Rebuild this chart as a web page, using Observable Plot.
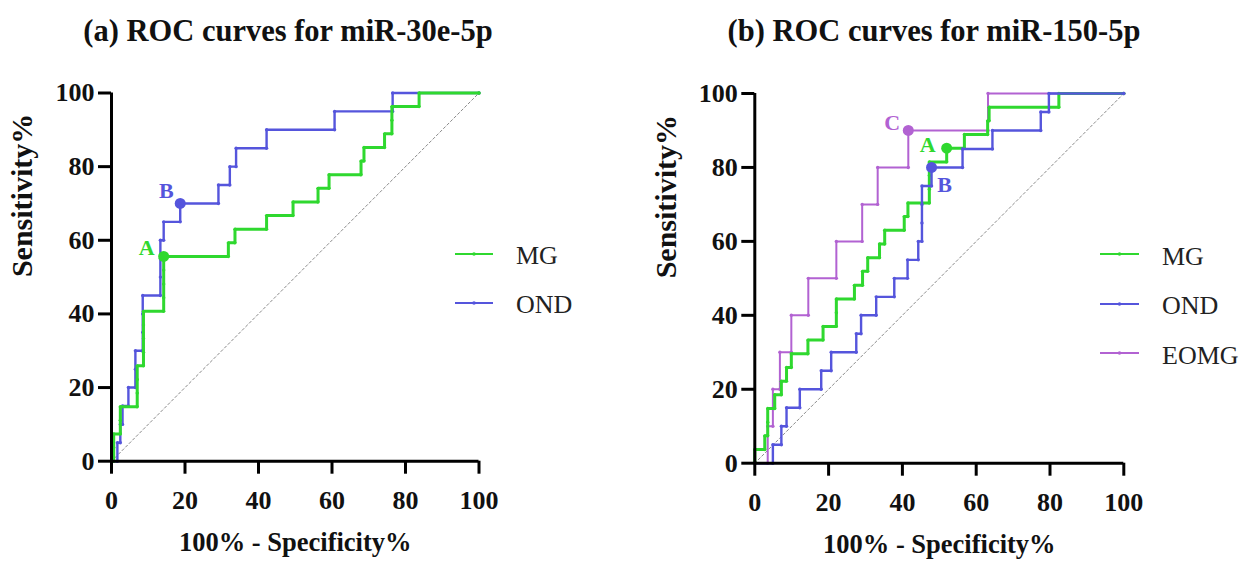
<!DOCTYPE html>
<html><head><meta charset="utf-8">
<script src="https://cdn.jsdelivr.net/npm/d3@7"></script>
<script src="https://cdn.jsdelivr.net/npm/@observablehq/plot@0.6"></script>
<style>
body{margin:0;background:#fff;}
#root{position:relative;width:1252px;height:568px;overflow:hidden;font-family:"Liberation Serif",serif;background:#fff;}
.title{position:absolute;top:16px;font-weight:bold;font-size:30.5px;line-height:30px;white-space:nowrap;transform:translateX(-50%);color:#111;}
.panel{position:absolute;top:60px;}
.leg{position:absolute;font-size:26px;line-height:30px;white-space:nowrap;color:#222;}
.legsw{position:absolute;}
</style></head><body><div id="root"></div>
<script>
// ---------- data ----------
const ticks = [0, 20, 40, 60, 80, 100];
const diagonal = [0, 100];

// Panel (a) miR-30e-5p
const mgA_fpr = [0,0.6,0.6,0.6,2.4,2.4,2.4,7,7,7,7,8.7,8.7,8.7,8.7,8.7,14.2,14.2,14.2,14.2,14.2,31.8,31.8,33.6,33.6,42.2,42.2,49.4,49.4,56.2,56.2,59.2,59.2,67.9,67.9,68.7,68.7,74.3,74.3,76.3,76.3,76.3,83.7,83.7,100];
const mgA_tpr = [0,0,3.7,7.4,7.4,11.1,14.8,14.8,18.5,22.2,25.9,25.9,29.6,33.3,37,40.7,40.7,44.4,48.1,51.9,55.6,55.6,59.3,59.3,63,63,66.7,66.7,70.4,70.4,74.1,74.1,77.8,77.8,81.5,81.5,85.2,85.2,88.9,88.9,92.6,96.3,96.3,100,100];
const ondA_fpr = [0,1.6,1.6,2.4,2.4,3.0,3.0,4.6,4.6,6.5,6.5,6.5,8.5,8.5,8.5,8.5,13.3,13.3,13.3,13.3,14.2,14.2,18.7,18.7,29.1,29.1,32.2,32.2,33.9,33.9,42.2,42.2,60.7,60.7,76.5,76.5,100];
const ondA_tpr = [0,0,5,5,10,10,15,15,20,20,25,30,30,35,40,45,45,50,55,60,60,65,65,70,70,75,75,80,80,85,85,90,90,95,95,100,100];
const cutA_label = ["A", "B"];
const cutA_fpr = [14.2, 18.7];
const cutA_tpr = [55.6, 70];

// Panel (b) miR-150-5p
const mgB_fpr = [0,0,2.7,2.7,3.5,3.5,3.5,5.4,5.4,7.2,7.2,8.6,8.6,9.9,9.9,14.4,14.4,18.5,18.5,22.1,22.1,22.1,27,27,29.2,29.2,30.6,30.6,33.8,33.8,35.2,35.2,40.5,40.5,41.5,41.5,47.3,47.3,47.3,47.3,52,52,56.8,56.8,63.1,63.1,63.5,63.5,82.4,82.4,100];
const mgB_tpr = [0,3.7,3.7,7.4,7.4,11.1,14.8,14.8,18.5,18.5,22.2,22.2,25.9,25.9,29.6,29.6,33.3,33.3,37,37,40.7,44.4,44.4,48.1,48.1,51.9,51.9,55.6,55.6,59.3,59.3,63,63,66.7,66.7,70.4,70.4,74.1,77.8,81.5,81.5,85.2,85.2,88.9,88.9,92.6,92.6,96.3,96.3,100,100];
const ondB_fpr = [0,4.9,4.9,7.2,7.2,8.6,8.6,12.2,12.2,18,18,20.7,20.7,27.5,27.5,28.8,28.8,32.9,32.9,37.8,37.8,41.4,41.4,44.3,44.3,45.3,45.3,45.3,45.3,47.9,47.9,56.3,56.3,64.4,64.4,77.5,77.5,79.7,79.7,100];
const ondB_tpr = [0,0,5,5,10,10,15,15,20,20,25,25,30,30,35,35,40,40,45,45,50,50,55,55,60,60,65,70,75,75,80,80,85,85,90,90,95,95,100,100];
const eomgB_fpr = [0,3.5,3.5,4.9,4.9,6.8,6.8,9.9,9.9,14.5,14.5,22.1,22.1,29.1,29.1,33.3,33.3,41.6,41.6,63.2,63.2,100];
const eomgB_tpr = [0,0,10,10,20,20,30,30,40,40,50,50,60,60,70,70,80,80,90,90,100,100];
const cutB_label = ["C", "A", "B"];
const cutB_fpr = [41.6, 52, 47.9];
const cutB_tpr = [90, 85.2, 80];

// ---------- styles ----------
const GREEN = "#2fd82f", BLUE = "#5555dc", PURPLE = "#b262d2";
const FONT = "'Liberation Serif', serif";

function seriesMarks(fpr, tpr, color, sw) {
  const idx = d3.range(fpr.length);
  return [
    Plot.line(idx, {x: i => fpr[i], y: i => tpr[i], stroke: color, strokeWidth: sw, strokeLinejoin: "miter"}),
    Plot.dot(idx, {x: i => fpr[i], y: i => tpr[i], fill: color, r: 1.7})
  ];
}

function makePanel(cfg) {
  const cutIdx = d3.range(cfg.cutLabel.length);
  return Plot.plot({
    width: cfg.width, height: 508,
    marginLeft: cfg.ml, marginRight: cfg.mr, marginTop: cfg.mt, marginBottom: cfg.mb,
    x: {domain: [0, 100]}, y: {domain: [0, 100]},
    style: {fontFamily: FONT, background: "transparent", overflow: "visible"},
    marks: [
      Plot.line(diagonal, {x: d => d, y: d => d, stroke: "#8a8a8a", strokeWidth: 1, strokeDasharray: "2.5,2.5"}),
      ...cfg.series.flatMap(s => seriesMarks(s.fpr, s.tpr, s.color, s.sw)),
      Plot.dot(cutIdx, {x: i => cfg.cutFpr[i], y: i => cfg.cutTpr[i], fill: i => cfg.cutColor[i], r: 5.5}),
      ...cutIdx.map(i => Plot.text([cfg.cutLabel[i]], {x: () => cfg.cutFpr[i], y: () => cfg.cutTpr[i], text: d => d, fill: cfg.cutColor[i], fontSize: 22, fontWeight: "bold", dx: cfg.cutDx[i], dy: cfg.cutDy[i]})),
      Plot.ruleY([0], {stroke: "#000", strokeWidth: 3}),
      Plot.ruleX([0], {stroke: "#000", strokeWidth: 3}),
      Plot.axisX(ticks, {tickSize: 13, strokeWidth: 3, tickPadding: 16, fontSize: 26, fontWeight: "bold", fill: "#111", label: null}),
      Plot.axisY(ticks, {tickSize: 13, strokeWidth: 3, tickPadding: 4, fontSize: 26, fontWeight: "bold", fill: "#111", label: null}),
      Plot.text(["100% - Specificity%"], {frameAnchor: "bottom", lineAnchor: "middle", dy: 81, text: d => d, fontSize: 26.5, fontWeight: "bold", fill: "#111"}),
      Plot.text(["Sensitivity%"], {frameAnchor: "left", lineAnchor: "middle", dx: cfg.ylabDx, rotate: -90, text: d => d, fontSize: 30, fontWeight: "bold", fill: "#111"})
    ]
  });
}

const root = document.getElementById("root");

function addTitle(text, cx) {
  const t = document.createElement("div");
  t.className = "title"; t.style.left = cx + "px"; t.textContent = text;
  root.appendChild(t);
}
addTitle("(a) ROC curves for miR-30e-5p", 288);
addTitle("(b) ROC curves for miR-150-5p", 934);

const pA = makePanel({
  width: 626, ml: 111, mr: 147.5, mt: 32.5, mb: 107.3, ylabDx: -89,
  series: [
    {fpr: ondA_fpr, tpr: ondA_tpr, color: BLUE, sw: 2.4},
    {fpr: mgA_fpr, tpr: mgA_tpr, color: GREEN, sw: 3}
  ],
  cutLabel: cutA_label, cutFpr: cutA_fpr, cutTpr: cutA_tpr, cutColor: [GREEN, BLUE],
  cutDx: [-17, -14], cutDy: [-9, -13]
});
pA.classList.add("panel"); pA.style.left = "0px";
root.appendChild(pA);

const pB = makePanel({
  width: 626, ml: 128.3, mr: 128.7, mt: 33, mb: 105.3, ylabDx: -88,
  series: [
    {fpr: eomgB_fpr, tpr: eomgB_tpr, color: PURPLE, sw: 2},
    {fpr: mgB_fpr, tpr: mgB_tpr, color: GREEN, sw: 3},
    {fpr: ondB_fpr, tpr: ondB_tpr, color: BLUE, sw: 2.4}
  ],
  cutLabel: cutB_label, cutFpr: cutB_fpr, cutTpr: cutB_tpr, cutColor: [PURPLE, GREEN, BLUE],
  cutDx: [-16, -19, 13], cutDy: [-8, -3, 18]
});
pB.classList.add("panel"); pB.style.left = "626px";
root.appendChild(pB);

// ---------- legends ----------
const legendA = ["MG", "OND"];
const legendB = ["MG", "OND", "EOMG"];
function addLegend(names, colors, lineX0, lineX1, textX, y0, step) {
  names.forEach((name, i) => {
    const y = y0 + i * step;
    const sw = document.createElementNS("http://www.w3.org/2000/svg", "svg");
    sw.setAttribute("class", "legsw");
    sw.setAttribute("width", lineX1 - lineX0); sw.setAttribute("height", 10);
    sw.style.left = lineX0 + "px"; sw.style.top = (y - 5) + "px";
    sw.innerHTML = `<line x1="0" x2="${lineX1 - lineX0}" y1="5" y2="5" stroke="${colors[i]}" stroke-width="2"/><circle cx="${(lineX1 - lineX0) / 2}" cy="5" r="1.8" fill="${colors[i]}"/>`;
    root.appendChild(sw);
    const t = document.createElement("div");
    t.className = "leg"; t.textContent = name;
    t.style.left = textX + "px"; t.style.top = (y + 2.5 - 14.6) + "px";
    root.appendChild(t);
  });
}
addLegend(legendA, [GREEN, BLUE], 455, 493, 516, 253.5, 49);
addLegend(legendB, [GREEN, BLUE, PURPLE], 1100, 1139, 1162, 254.3, 49.2);
</script></body></html>
